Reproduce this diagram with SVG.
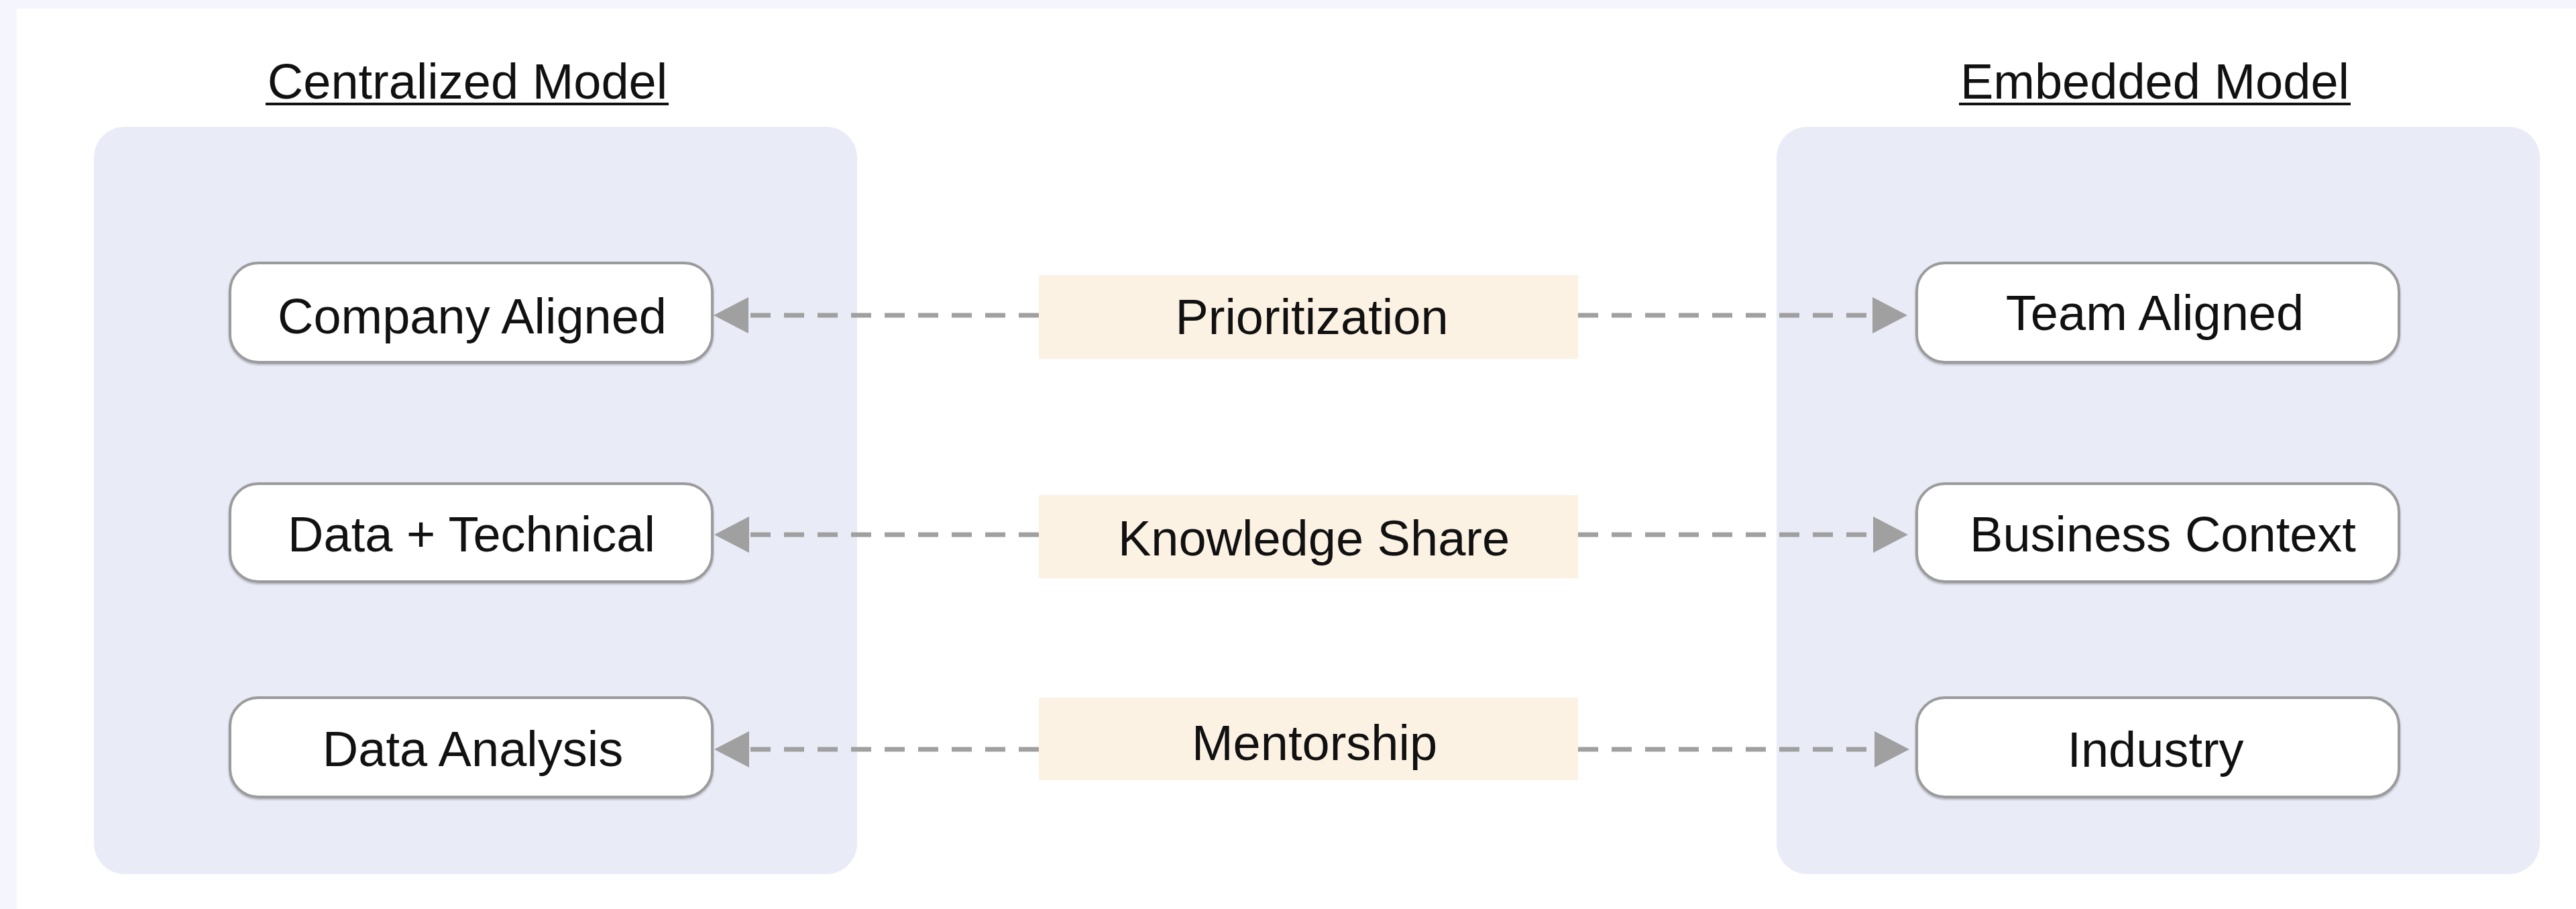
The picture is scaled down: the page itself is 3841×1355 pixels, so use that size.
<svg xmlns="http://www.w3.org/2000/svg" width="3841" height="1355" viewBox="0 0 3841 1355">
  <style>
    .title { font-family: "Liberation Sans", Arial, Helvetica, sans-serif; font-size: 74px; fill: #111; text-anchor: middle; }
    .label { font-family: "Liberation Sans", Arial, Helvetica, sans-serif; font-size: 74px; fill: #111; text-anchor: middle; }
    .group { fill: #e9ebf7; }
    .node rect { fill: #ffffff; stroke: #9b9b9b; stroke-width: 4; }
    .tag rect { fill: #fcf2e3; }
    .conn line { stroke: #a0a0a0; stroke-width: 7; stroke-dasharray: 30 20; fill: none; }
    .underline { stroke: #111; stroke-width: 4; }
  </style>
  <defs>
    <marker id="head" markerUnits="userSpaceOnUse" markerWidth="54" markerHeight="56" viewBox="0 -28 54 56" refX="0" refY="0" orient="auto">
      <path d="M0,-27 L52,0 L0,27 Z" fill="#a0a0a0"/>
    </marker>
    <filter id="soft" x="-5%" y="-10%" width="110%" height="130%">
      <feDropShadow dx="0" dy="2" stdDeviation="1.5" flood-color="#000" flood-opacity="0.25"/>
    </filter>
  </defs>

  <!-- page -->
  <rect x="0" y="0" width="3841" height="1355" fill="#f5f6fd"/>
  <rect x="25" y="13" width="3816" height="1342" fill="#ffffff"/>

  <!-- model panels -->
  <g id="centralized-model">
    <rect class="group" x="140" y="189" width="1138" height="1114" rx="46"/>
    <text class="title" x="697" y="147">Centralized Model</text>
    <line class="underline" x1="396" y1="155" x2="997" y2="155"/>
  </g>
  <g id="embedded-model">
    <rect class="group" x="2649" y="189" width="1138" height="1114" rx="46"/>
    <text class="title" x="3213" y="147">Embedded Model</text>
    <line class="underline" x1="2921" y1="155" x2="3505" y2="155"/>
  </g>

  <!-- connectors -->
  <g id="connectors" class="conn">
    <line x1="1549" y1="470" x2="1116" y2="470" marker-end="url(#head)"/>
    <line x1="2353" y1="470" x2="2792" y2="470" marker-end="url(#head)"/>
    <line x1="1549" y1="797" x2="1117" y2="797" marker-end="url(#head)"/>
    <line x1="2353" y1="797" x2="2793" y2="797" marker-end="url(#head)"/>
    <line x1="1549" y1="1117" x2="1117" y2="1117" marker-end="url(#head)"/>
    <line x1="2353" y1="1117" x2="2795" y2="1117" marker-end="url(#head)"/>
  </g>

  <!-- left nodes -->
  <g id="company-aligned" class="node">
    <rect x="343" y="392" width="719" height="148" rx="42" filter="url(#soft)"/>
    <text class="label" x="704" y="497">Company Aligned</text>
  </g>
  <g id="data-technical" class="node">
    <rect x="343" y="721" width="719" height="146" rx="42" filter="url(#soft)"/>
    <text class="label" x="703" y="822">Data + Technical</text>
  </g>
  <g id="data-analysis" class="node">
    <rect x="343" y="1040" width="719" height="148" rx="42" filter="url(#soft)"/>
    <text class="label" x="705" y="1142">Data Analysis</text>
  </g>

  <!-- right nodes -->
  <g id="team-aligned" class="node">
    <rect x="2858" y="392" width="719" height="148" rx="42" filter="url(#soft)"/>
    <text class="label" x="3213" y="492">Team Aligned</text>
  </g>
  <g id="business-context" class="node">
    <rect x="2858" y="721" width="719" height="146" rx="42" filter="url(#soft)"/>
    <text class="label" x="3225" y="822">Business Context</text>
  </g>
  <g id="industry" class="node">
    <rect x="2858" y="1040" width="719" height="148" rx="42" filter="url(#soft)"/>
    <text class="label" x="3214" y="1143">Industry</text>
  </g>

  <!-- middle labels -->
  <g id="prioritization" class="tag">
    <rect x="1549" y="410" width="804" height="125"/>
    <text class="label" x="1956" y="498">Prioritization</text>
  </g>
  <g id="knowledge-share" class="tag">
    <rect x="1549" y="738" width="804" height="124"/>
    <text class="label" x="1959" y="828">Knowledge Share</text>
  </g>
  <g id="mentorship" class="tag">
    <rect x="1549" y="1040" width="804" height="123"/>
    <text class="label" x="1960" y="1133">Mentorship</text>
  </g>
</svg>
